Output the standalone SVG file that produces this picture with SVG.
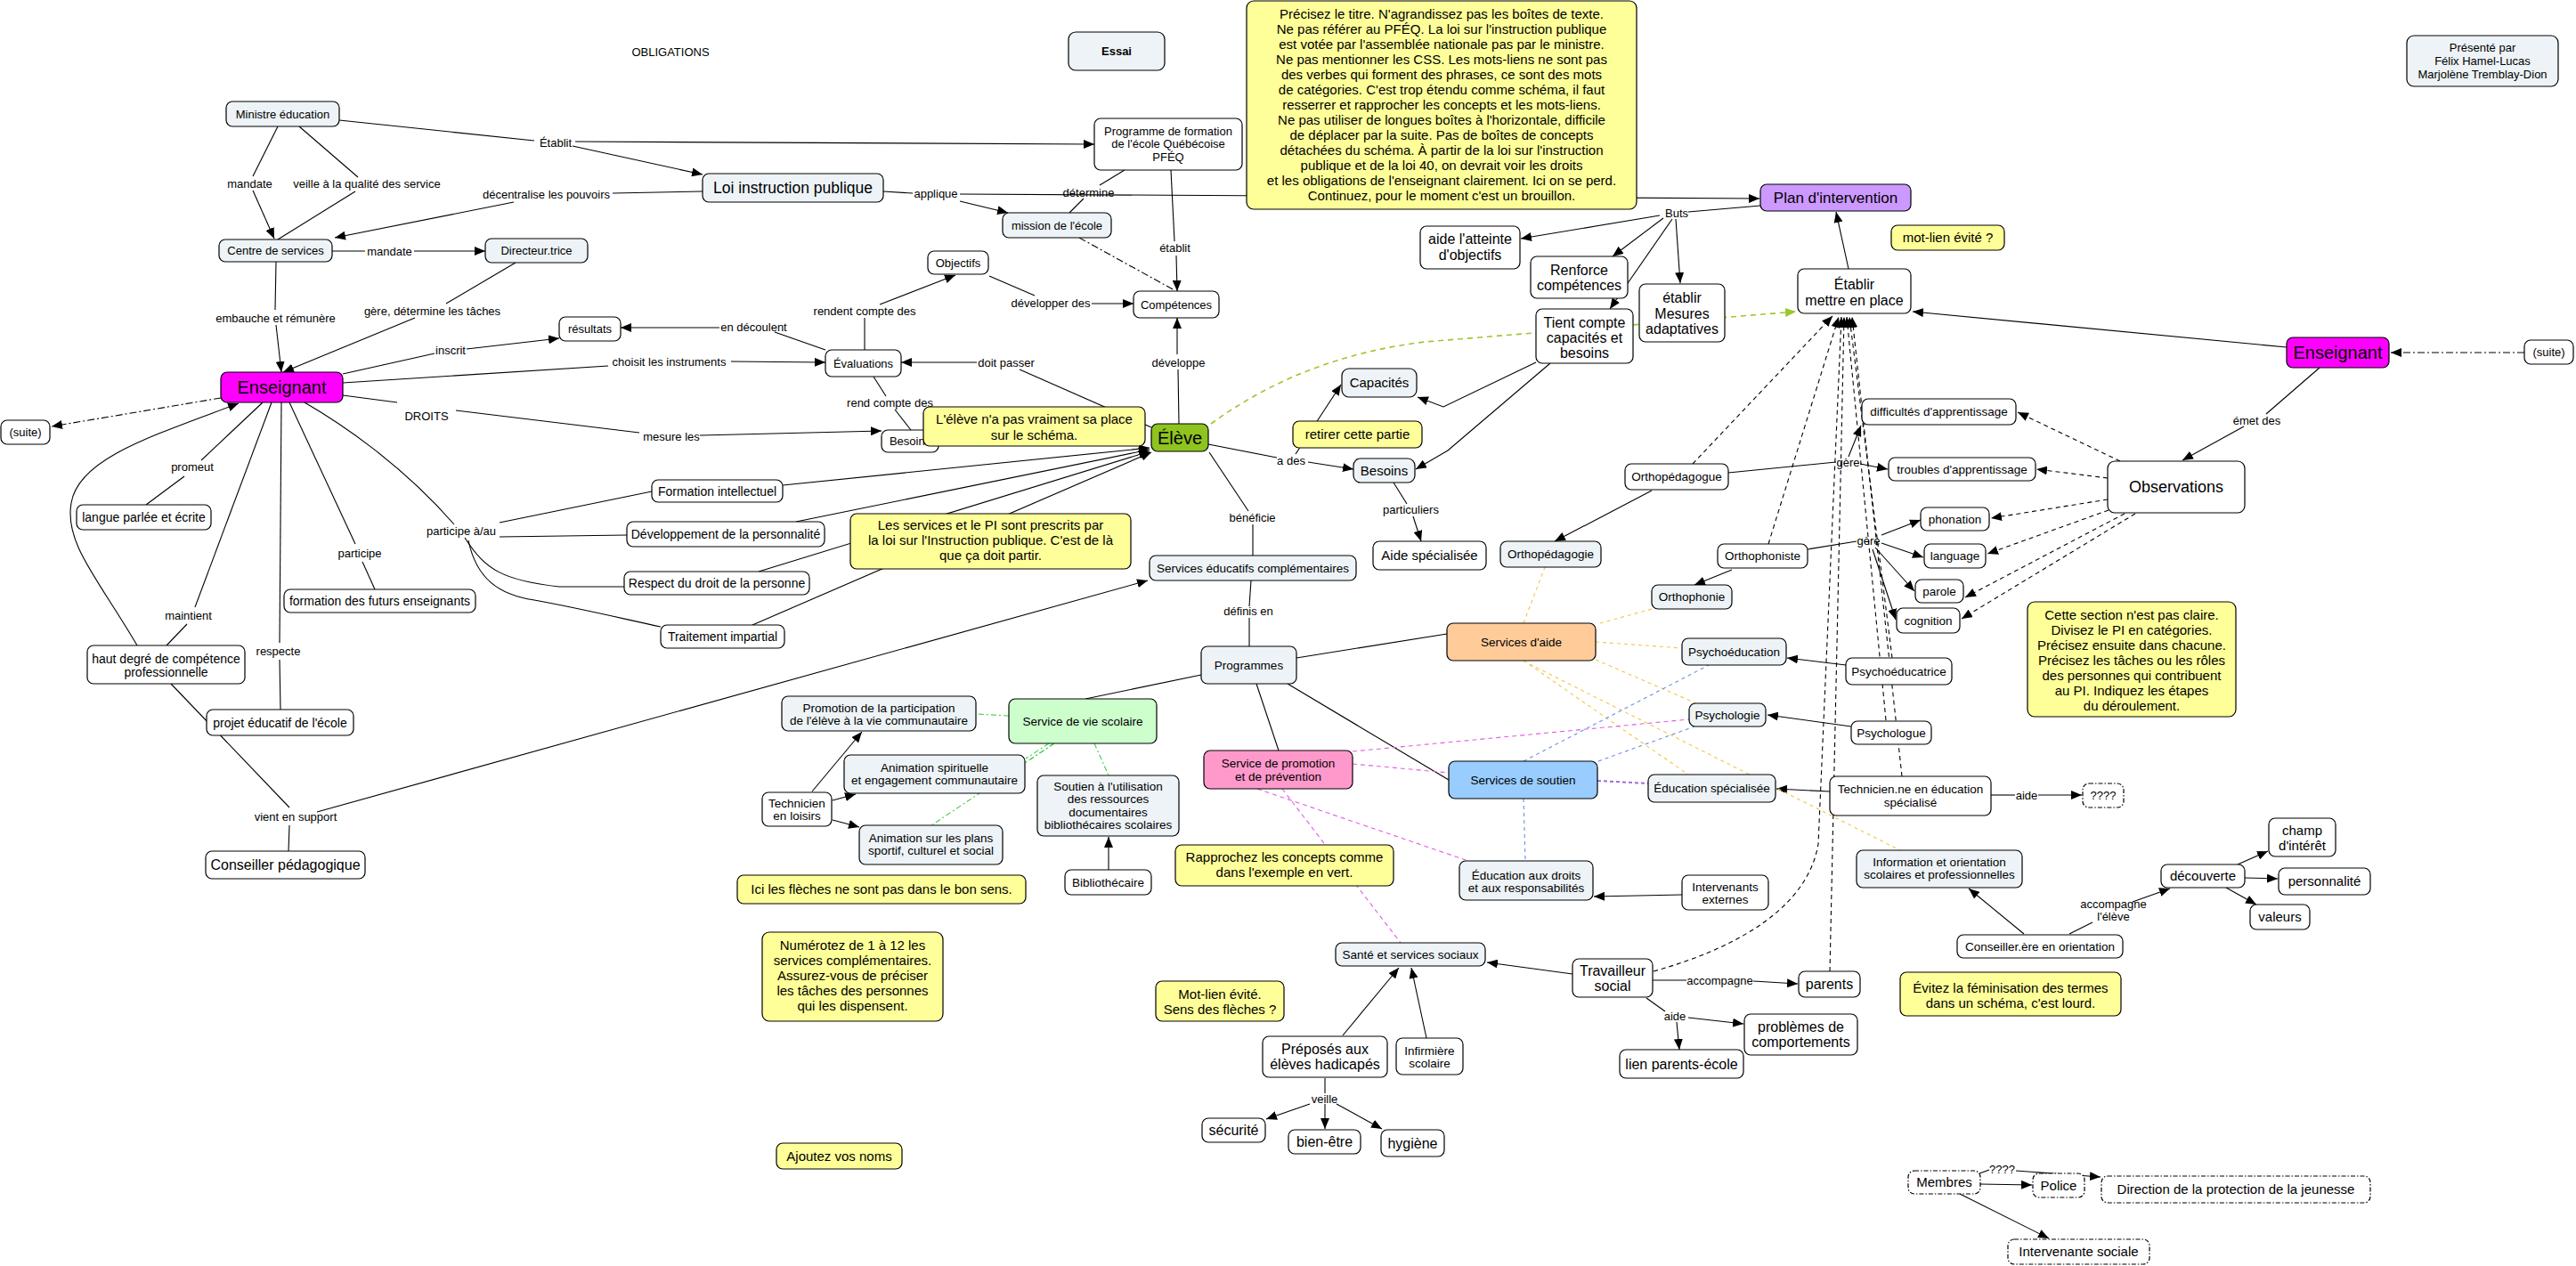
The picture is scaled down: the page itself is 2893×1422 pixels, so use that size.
<svg xmlns="http://www.w3.org/2000/svg" width="2893" height="1422" viewBox="0 0 2893 1422">
<style>
text{font-family:'Liberation Sans',Arial,sans-serif;text-anchor:middle;fill:#000}
.w{fill:#fff;stroke:#000;stroke-width:1.2}
.l{fill:#edf3f6;stroke:#000;stroke-width:1.2}
.y{fill:#ffff99;stroke:#000;stroke-width:1.2}
.mg{fill:#ff00ff;stroke:#000;stroke-width:1.2}
.dd{stroke-dasharray:5 2 1.5 2}
.f12{font-size:12px}.f13{font-size:13px}.f135{font-size:13.5px}.f14{font-size:14px}.f15{font-size:15px}.f16{font-size:16px}.f17{font-size:17px}.f18{font-size:18px}.f20{font-size:20px}
.c path{fill:none;stroke:#000;stroke-width:1.1}
.c .da{stroke-dasharray:5 4}
.c .dt{stroke-dasharray:8 3 2 3}
.c .gy{stroke:#f2c744;stroke-dasharray:4 4}
.c .bl{stroke:#6a8fe6;stroke-dasharray:4 4}
.c .pu{stroke:#9a6fd6;stroke-dasharray:4 3;stroke-width:2}
.c .pk{stroke:#e35be3;stroke-dasharray:5 4}
.c .gr{stroke:#44cc44;stroke-dasharray:6 3 2 3}
.c .yg{stroke:#9cc72e;stroke-dasharray:6 5;stroke-width:1.6}
.lab text{font-size:13px}
</style>
<defs>
<marker id="a" viewBox="0 0 12 10" refX="12" refY="5" markerWidth="12" markerHeight="10" markerUnits="userSpaceOnUse" orient="auto"><path d="M0,0 L12,5 L0,10 z" fill="#000"/></marker>
<marker id="ag" viewBox="0 0 12 10" refX="12" refY="5" markerWidth="12" markerHeight="10" markerUnits="userSpaceOnUse" orient="auto"><path d="M0,0 L12,5 L0,10 z" fill="#9cc72e"/></marker>
</defs>
<rect width="2893" height="1422" fill="#fff"/>
<g id="connectors" class="c">
<path d="M381,135 L600,158"/>
<path d="M646,159 L1229,162" marker-end="url(#a)"/>
<path d="M643,164 L789,196" marker-end="url(#a)"/>
<path d="M312,142 L284,198"/>
<path d="M284,214 L308,268" marker-end="url(#a)"/>
<path d="M336,142 L402,199"/>
<path d="M399,215 L312,269"/>
<path d="M789,215 L688,217"/>
<path d="M577,227 L376,267" marker-end="url(#a)"/>
<path d="M373,282 L410,282"/>
<path d="M465,282 L545,282" marker-end="url(#a)"/>
<path d="M310,294 L309,348"/>
<path d="M310,365 L316,418" marker-end="url(#a)"/>
<path d="M579,295 L501,341"/>
<path d="M466,357 L318,418" marker-end="url(#a)"/>
<path d="M385,420 L488,397"/>
<path d="M524,392 L628,380" marker-end="url(#a)"/>
<path d="M385,430 L683,411"/>
<path d="M821,406 L927,407" marker-end="url(#a)"/>
<path d="M385,444 L446,452"/>
<path d="M512,461 L718,486"/>
<path d="M786,489 L990,484" marker-end="url(#a)"/>
<path class="dt" d="M248,447 L58,479" marker-end="url(#a)"/>
<path d="M295,452 L226,517"/>
<path d="M207,535 L164,567"/>
<path d="M305,452 L219,682"/>
<path d="M210,701 L187,725"/>
<path d="M154,725 C110,650 72,610 80,565 C88,515 170,490 268,453" marker-end="url(#a)"/>
<path d="M316,452 L314,722"/>
<path d="M314,741 L315,797"/>
<path d="M325,452 L399,611"/>
<path d="M407,631 L421,662"/>
<path d="M342,452 C380,474 450,520 510,589"/>
<path d="M561,587 L732,552"/>
<path d="M879,545 L1291,503" marker-end="url(#a)"/>
<path d="M561,603 L704,601"/>
<path d="M894,586 L1291,505" marker-end="url(#a)"/>
<path d="M522,604 C545,640 565,652 628,659 L701,659"/>
<path d="M852,642 L1291,507" marker-end="url(#a)"/>
<path d="M526,607 C535,650 560,668 600,674 C650,683 700,695 742,704"/>
<path d="M845,702 L1293,508" marker-end="url(#a)"/>
<path d="M192,768 L325,907"/>
<path d="M325,927 L324,956"/>
<path d="M356,912 L1289,652" marker-end="url(#a)"/>
<path d="M992,215 L1025,217"/>
<path d="M1078,218 L1976,223" marker-end="url(#a)"/>
<path d="M1078,226 L1132,239" marker-end="url(#a)"/>
<path d="M1263,191 L1235,208"/>
<path d="M1217,223 L1201,239"/>
<path d="M1315,191 L1319,271"/>
<path d="M1321,287 L1322,327" marker-end="url(#a)"/>
<path class="dt" d="M1212,267 L1319,326"/>
<path d="M1111,310 L1162,332"/>
<path d="M1226,341 L1273,341" marker-end="url(#a)"/>
<path d="M971,393 L971,357"/>
<path d="M988,342 L1073,309" marker-end="url(#a)"/>
<path d="M927,393 L870,373"/>
<path d="M808,368 L697,368" marker-end="url(#a)"/>
<path d="M1293,480 L1145,415"/>
<path d="M1097,407 L1012,407" marker-end="url(#a)"/>
<path d="M1324,476 L1323,415"/>
<path d="M1322,398 L1322,357" marker-end="url(#a)"/>
<path d="M981,423 L995,445"/>
<path d="M1005,460 L1023,483"/>
<path d="M1357,499 L1434,514"/>
<path d="M1469,519 L1520,527" marker-end="url(#a)"/>
<path d="M1455,510 L1506,432" marker-end="url(#a)"/>
<path d="M1358,508 L1402,574"/>
<path d="M1407,589 L1407,624"/>
<path d="M1405,652 L1403,681"/>
<path d="M1403,694 L1403,726"/>
<path d="M1456,739 L1625,712"/>
<path d="M1446,768 L1627,876"/>
<path d="M1411,768 L1436,843"/>
<path d="M1349,758 L1219,785"/>
<path d="M1565,542 L1580,566"/>
<path d="M1587,580 L1596,608" marker-end="url(#a)"/>
<path d="M1725,407 L1621,457 L1592,446" marker-end="url(#a)"/>
<path d="M1741,408 L1626,506 L1590,527" marker-end="url(#a)"/>
<path d="M1977,231 L1896,238"/>
<path d="M1864,242 L1708,268" marker-end="url(#a)"/>
<path d="M1868,245 L1811,288" marker-end="url(#a)"/>
<path d="M1878,246 L1808,347" marker-end="url(#a)"/>
<path d="M1882,246 L1887,318" marker-end="url(#a)"/>
<path d="M2076,302 L2062,238" marker-end="url(#a)"/>
<path class="yg" d="M1360,476 C1430,425 1510,395 1600,384 L2017,350" marker-end="url(#ag)"/>
<path d="M2568,390 L2148,350" marker-end="url(#a)"/>
<path class="dt" d="M2835,396 L2685,396" marker-end="url(#a)"/>
<path d="M2605,413 L2545,465"/>
<path d="M2520,479 L2451,517" marker-end="url(#a)"/>
<path class="da" d="M2381,518 L2266,463" marker-end="url(#a)"/>
<path class="da" d="M2367,537 L2287,527" marker-end="url(#a)"/>
<path class="da" d="M2367,561 L2236,582" marker-end="url(#a)"/>
<path class="da" d="M2368,573 L2232,622" marker-end="url(#a)"/>
<path class="da" d="M2386,577 L2207,671" marker-end="url(#a)"/>
<path class="da" d="M2398,577 L2203,695" marker-end="url(#a)"/>
<path d="M1855,551 L1746,608" marker-end="url(#a)"/>
<path d="M1941,531 L2062,519"/>
<path d="M2089,521 L2120,527" marker-end="url(#a)"/>
<path d="M2076,513 L2090,478" marker-end="url(#a)"/>
<path d="M1945,640 L1903,657" marker-end="url(#a)"/>
<path d="M2030,617 L2085,608"/>
<path d="M2113,601 L2157,584" marker-end="url(#a)"/>
<path d="M2113,610 L2160,626" marker-end="url(#a)"/>
<path d="M2106,615 L2150,664" marker-end="url(#a)"/>
<path d="M2103,617 L2129,696" marker-end="url(#a)"/>
<path d="M2073,747 L2007,739" marker-end="url(#a)"/>
<path d="M2079,816 L1985,803" marker-end="url(#a)"/>
<path d="M2055,889 L1995,886" marker-end="url(#a)"/>
<path d="M2236,893 L2263,893"/>
<path d="M2289,893 L2338,893" marker-end="url(#a)"/>
<path class="da" d="M1901,521 L2058,355" marker-end="url(#a)"/>
<path class="da" d="M1986,611 L2065,356" marker-end="url(#a)"/>
<path class="da" d="M1857,1091 C1950,1065 2030,1020 2042,948 L2068,356" marker-end="url(#a)"/>
<path class="da" d="M2055,1091 L2071,356" marker-end="url(#a)"/>
<path class="da" d="M2118,809 L2074,356" marker-end="url(#a)"/>
<path class="da" d="M2125,739 L2077,356" marker-end="url(#a)"/>
<path class="da" d="M2136,872 L2080,356" marker-end="url(#a)"/>
<path d="M1766,1094 L1670,1081" marker-end="url(#a)"/>
<path d="M1856,1101 L1894,1101"/>
<path d="M1969,1102 L2019,1105" marker-end="url(#a)"/>
<path d="M1849,1121 L1870,1136"/>
<path d="M1883,1148 L1886,1179" marker-end="url(#a)"/>
<path d="M1896,1143 L1958,1150" marker-end="url(#a)"/>
<path d="M1889,1005 L1790,1007" marker-end="url(#a)"/>
<path d="M1508,1163 L1571,1087" marker-end="url(#a)"/>
<path d="M1602,1166 L1585,1087" marker-end="url(#a)"/>
<path d="M1488,1211 L1488,1228"/>
<path d="M1488,1240 L1488,1268" marker-end="url(#a)"/>
<path d="M1471,1240 L1422,1257" marker-end="url(#a)"/>
<path d="M1501,1240 L1552,1268" marker-end="url(#a)"/>
<path d="M2273,1049 L2211,998" marker-end="url(#a)"/>
<path d="M2324,1049 L2350,1036"/>
<path d="M2395,1013 L2437,998" marker-end="url(#a)"/>
<path d="M2513,971 L2547,956" marker-end="url(#a)"/>
<path d="M2521,986 L2558,987" marker-end="url(#a)"/>
<path d="M2500,997 L2534,1016" marker-end="url(#a)"/>
<path d="M2223,1318 L2234,1314"/>
<path d="M2264,1315 L2359,1322" marker-end="url(#a)"/>
<path d="M2224,1330 L2282,1331" marker-end="url(#a)"/>
<path d="M2201,1341 L2301,1391" marker-end="url(#a)"/>
<path d="M912,889 L968,822" marker-end="url(#a)"/>
<path d="M935,899 L961,892" marker-end="url(#a)"/>
<path d="M935,921 L965,929" marker-end="url(#a)"/>
<path d="M1245,977 L1245,940" marker-end="url(#a)"/>
<path class="gr" d="M1133,804 L1096,802"/>
<path class="gr" d="M1178,835 L1152,852"/>
<path class="gr" d="M1184,835 L1157,853"/>
<path class="gr" d="M1184,835 L1046,927"/>
<path class="gr" d="M1229,835 L1245,871"/>
<path class="gy" d="M1711,700 L1735,637"/>
<path class="gy" d="M1797,700 L1855,684"/>
<path class="gy" d="M1792,721 L1889,728"/>
<path class="gy" d="M1792,741 L1905,790"/>
<path class="gy" d="M1711,742 L1896,870"/>
<path class="gy" d="M1718,746 L2134,955"/>
<path class="bl" d="M1711,855 L1919,747"/>
<path class="bl" d="M1795,855 L1903,816"/>
<path class="pu" d="M1794,877 L1851,880"/>
<path class="bl" d="M1711,897 L1713,967"/>
<path class="pk" d="M1519,844 L1897,808"/>
<path class="pk" d="M1519,858 L1627,868"/>
<path class="pk" d="M1412,886 L1649,967"/>
<path class="pk" d="M1440,886 L1573,1059"/>
</g>
<g id="link-labels" class="lab">
<text x="624" y="164.6">Établit</text>
<text x="280.5" y="210.6">mandate</text>
<text x="412" y="210.6">veille à la qualité des service</text>
<text x="613.5" y="222.6">décentralise les pouvoirs</text>
<text x="437.5" y="286.6">mandate</text>
<text x="309.5" y="361.6">embauche et rémunère</text>
<text x="485.5" y="353.6">gère, détermine les tâches</text>
<text x="506" y="397.6">inscrit</text>
<text x="751.5" y="410.6">choisit les instruments</text>
<text x="479" y="471.6">DROITS</text>
<text x="754" y="494.6">mesure les</text>
<text x="1051" y="221.6">applique</text>
<text x="1222.5" y="220.6">détermine</text>
<text x="1319.5" y="282.6">établit</text>
<text x="1180" y="344.6">développer des</text>
<text x="971" y="353.6">rendent compte des</text>
<text x="846.5" y="371.6">en découlent</text>
<text x="1130" y="411.6">doit passer</text>
<text x="1323.5" y="411.6">développe</text>
<text x="999.5" y="456.6">rend compte des</text>
<text x="216" y="528.6">promeut</text>
<text x="211.5" y="695.6">maintient</text>
<text x="312.5" y="735.6">respecte</text>
<text x="404" y="625.6">participe</text>
<text x="518" y="600.6">participe à/au</text>
<text x="332" y="921.6">vient en support</text>
<text x="1406.5" y="585.6">bénéficie</text>
<text x="1402" y="690.6">définis en</text>
<text x="1450" y="521.6">a des</text>
<text x="1584.5" y="576.6">particuliers</text>
<text x="1883" y="243.6">Buts</text>
<text x="2075.5" y="523.6">gère</text>
<text x="2098.5" y="611.6">gère</text>
<text x="2276" y="897.6">aide</text>
<text x="1931.5" y="1105.6">accompagne</text>
<text x="1881" y="1145.6">aide</text>
<text x="1487.5" y="1238.6">veille</text>
<text class="f12" x="2373.5" y="1020">accompagne</text>
<text class="f12" x="2373.5" y="1034">l'élève</text>
<text class="f12" x="2248.5" y="1318">????</text>
<text x="2534.5" y="476.6">émet des</text>
</g>
<g id="obligations"><text class="f13" x="753" y="62.5">OBLIGATIONS</text></g>
<g id="essai"><rect class="l" x="1200" y="36" width="108" height="43" rx="8"/><text class="f13" x="1254" y="62" font-weight="bold">Essai</text></g>
<g id="note-main"><rect class="y" x="1400" y="1" width="438" height="234" rx="8"/>
<text class="f15"><tspan x="1619" y="21.3">Précisez le titre. N'agrandissez pas les boîtes de texte.</tspan><tspan x="1619" dy="17">Ne pas référer au PFÉQ. La loi sur l'instruction publique</tspan><tspan x="1619" dy="17">est votée par l'assemblée nationale pas par le ministre.</tspan><tspan x="1619" dy="17">Ne pas mentionner les CSS. Les mots-liens ne sont pas</tspan><tspan x="1619" dy="17">des verbes qui forment des phrases, ce sont des mots</tspan><tspan x="1619" dy="17">de catégories. C'est trop étendu comme schéma, il faut</tspan><tspan x="1619" dy="17">resserrer et rapprocher les concepts et les mots-liens.</tspan><tspan x="1619" dy="17">Ne pas utiliser de longues  boîtes à l'horizontale, difficile</tspan><tspan x="1619" dy="17">de déplacer par la suite. Pas de boîtes de concepts</tspan><tspan x="1619" dy="17">détachées du schéma. À partir de la loi sur l'instruction</tspan><tspan x="1619" dy="17">publique et de la loi 40, on devrait voir les droits</tspan><tspan x="1619" dy="17">et les obligations de l'enseignant clairement. Ici on se perd.</tspan><tspan x="1619" dy="17">Continuez, pour le moment c'est un brouillon.</tspan></text></g>
<g id="presente"><rect class="l" x="2703" y="40" width="170" height="57" rx="8"/><text class="f13"><tspan x="2788" y="57.6">Présenté par</tspan><tspan x="2788" y="72.6">Félix Hamel-Lucas</tspan><tspan x="2788" y="87.6">Marjolène Tremblay-Dion</tspan></text></g>
<g id="ministre"><rect class="l" x="254" y="114" width="127" height="28" rx="7"/><text class="f13" x="317.5" y="132.6">Ministre éducation</text></g>
<g id="loi"><rect class="l" x="789" y="195" width="203" height="32" rx="7"/><text x="890.5" y="217.2" font-size="17.5">Loi instruction publique</text></g>
<g id="programme"><rect class="w" x="1229" y="133" width="166" height="58" rx="7"/><text class="f13"><tspan x="1312" y="151.6">Programme de formation</tspan><tspan x="1312" y="166.1">de l'école Québécoise</tspan><tspan x="1312" y="180.6">PFÉQ</tspan></text></g>
<g id="centre"><rect class="l" x="246" y="269" width="127" height="25" rx="7"/><text class="f13" x="309.5" y="286.1">Centre de services</text></g>
<g id="directeur"><rect class="l" x="545" y="268" width="115" height="27" rx="7"/><text class="f13" x="602.5" y="286.1">Directeur.trice</text></g>
<g id="mission"><rect class="l" x="1126" y="239" width="122" height="28" rx="7"/><text class="f13" x="1187" y="257.6">mission de l'école</text></g>
<g id="objectifs"><rect class="w" x="1042" y="282" width="68" height="26" rx="7"/><text class="f13" x="1076" y="299.6">Objectifs</text></g>
<g id="competences"><rect class="w" x="1273" y="327" width="96" height="30" rx="7"/><text class="f13" x="1321" y="346.6">Compétences</text></g>
<g id="resultats"><rect class="w" x="628" y="356" width="69" height="27" rx="7"/><text class="f13" x="662.5" y="374.1">résultats</text></g>
<g id="evaluations"><rect class="w" x="927" y="393" width="85" height="30" rx="7"/><text class="f13" x="969.5" y="412.6">Évaluations</text></g>
<g id="enseignant"><rect class="mg" x="248" y="418" width="137" height="34" rx="7"/><text class="f20" x="316.5" y="442.1">Enseignant</text></g>
<g id="suite-left"><rect class="w" x="1" y="472" width="55" height="27" rx="7"/><text class="f13" x="28.5" y="490.1">(suite)</text></g>
<g id="besoins-left"><rect class="w" x="990" y="483" width="64" height="25" rx="7"/><text class="f13" x="1022" y="500.1">Besoins</text></g>
<g id="note-eleve"><rect class="y" x="1037" y="457" width="249" height="44" rx="7"/><text class="f15"><tspan x="1161.5" y="475.8">L'élève n'a pas vraiment sa place</tspan><tspan x="1161.5" y="493.8">sur le schéma.</tspan></text></g>
<g id="eleve"><rect x="1293" y="476" width="64" height="31" rx="7" fill="#8fc31f" stroke="#000" stroke-width="1.2"/><text class="f20" x="1325" y="498.6">Élève</text></g>
<g id="note-retirer"><rect class="y" x="1452" y="473" width="145" height="30" rx="7"/><text class="f15" x="1524.5" y="493.3">retirer cette partie</text></g>
<g id="capacites"><rect class="l" x="1507" y="414" width="84" height="32" rx="8"/><text class="f15" x="1549" y="435.3">Capacités</text></g>
<g id="besoins-right"><rect class="l" x="1520" y="515" width="69" height="27" rx="8"/><text class="f15" x="1554.5" y="533.8">Besoins</text></g>
<g id="aide-specialisee"><rect class="w" x="1542" y="608" width="127" height="32" rx="7"/><text class="f15" x="1605.5" y="629.3">Aide spécialisée</text></g>
<g id="orthopedagogie"><rect class="l" x="1685" y="608" width="113" height="29" rx="7"/><text class="f135" x="1741.5" y="627.3">Orthopédagogie</text></g>
<g id="orthopedagogue"><rect class="w" x="1825" y="521" width="116" height="29" rx="7"/><text class="f135" x="1883" y="540.3">Orthopédagogue</text></g>
<g id="orthophoniste"><rect class="w" x="1929" y="611" width="101" height="27" rx="7"/><text class="f135" x="1979.5" y="629.3">Orthophoniste</text></g>
<g id="orthophonie"><rect class="l" x="1855" y="657" width="90" height="27" rx="7"/><text class="f135" x="1900" y="675.3">Orthophonie</text></g>
<g id="formation-intellectuel"><rect class="w" x="732" y="539" width="147" height="25" rx="7"/><text class="f14" x="805.5" y="556.5">Formation intellectuel</text></g>
<g id="developpement"><rect class="w" x="704" y="586" width="222" height="28" rx="7"/><text class="f14" x="815" y="605">Développement de la personnalité</text></g>
<g id="respect"><rect class="w" x="701" y="642" width="208" height="26" rx="7"/><text class="f14" x="805" y="660">Respect du droit de la personne</text></g>
<g id="traitement"><rect class="w" x="742" y="702" width="139" height="26" rx="7"/><text class="f14" x="811.5" y="720">Traitement impartial</text></g>
<g id="note-services"><rect class="y" x="955" y="577" width="315" height="62" rx="7"/><text class="f15"><tspan x="1112.5" y="595.3">Les services et le PI sont prescrits par</tspan><tspan x="1112.5" y="612.3">la loi sur l'Instruction publique. C'est de là</tspan><tspan x="1112.5" y="629.3">que ça doit partir.</tspan></text></g>
<g id="services-educatifs"><rect class="l" x="1291" y="624" width="232" height="28" rx="7"/><text class="f135" x="1407" y="642.8">Services éducatifs complémentaires</text></g>
<g id="langue"><rect class="w" x="86" y="567" width="151" height="28" rx="7"/><text class="f14" x="161.5" y="586">langue parlée et écrite</text></g>
<g id="formation-futurs"><rect class="w" x="319" y="662" width="215" height="26" rx="7"/><text class="f14" x="426.5" y="680">formation des futurs enseignants</text></g>
<g id="haut-degre"><rect class="w" x="98" y="725" width="177" height="43" rx="7"/><text class="f14"><tspan x="186.5" y="745">haut degré de compétence</tspan><tspan x="186.5" y="759.5">professionnelle</tspan></text></g>
<g id="projet"><rect class="w" x="232" y="797" width="165" height="29" rx="7"/><text class="f14" x="314.5" y="816.5">projet éducatif de l'école</text></g>
<g id="conseiller-pedagogique"><rect class="w" x="231" y="956" width="179" height="31" rx="7"/><text class="f16" x="320.5" y="977.2">Conseiller pédagogique</text></g>
<g id="programmes"><rect class="l" x="1349" y="726" width="107" height="42" rx="7"/><text class="f135" x="1402.5" y="751.8">Programmes</text></g>
<g id="services-aide"><rect x="1625" y="700" width="167" height="42" rx="7" fill="#ffcc99" stroke="#000" stroke-width="1.2"/><text class="f135" x="1708.5" y="725.8">Services d'aide</text></g>
<g id="psychoeducation"><rect class="l" x="1889" y="717" width="117" height="30" rx="7"/><text class="f135" x="1947.5" y="736.8">Psychoéducation</text></g>
<g id="psychoeducatrice"><rect class="w" x="2073" y="739" width="119" height="30" rx="7"/><text class="f135" x="2132.5" y="758.8">Psychoéducatrice</text></g>
<g id="psychologie"><rect class="l" x="1897" y="790" width="86" height="26" rx="7"/><text class="f135" x="1940" y="807.8">Psychologie</text></g>
<g id="psychologue"><rect class="w" x="2079" y="810" width="90" height="26" rx="7"/><text class="f135" x="2124" y="827.8">Psychologue</text></g>
<g id="services-soutien"><rect x="1627" y="855" width="167" height="42" rx="7" fill="#99ccff" stroke="#000" stroke-width="1.2"/><text class="f135" x="1710.5" y="880.8">Services de soutien</text></g>
<g id="education-specialisee"><rect class="l" x="1851" y="870" width="143" height="31" rx="7"/><text class="f135" x="1922.5" y="890.3">Éducation spécialisée</text></g>
<g id="technicien-es"><rect class="w" x="2055" y="872" width="181" height="44" rx="7"/><text class="f135"><tspan x="2145.5" y="891.3">Technicien.ne en éducation</tspan><tspan x="2145.5" y="906.3">spécialisé</tspan></text></g>
<g id="q-aide"><rect class="w dd" x="2339" y="880" width="46" height="27" rx="7"/><text class="f13" x="2362" y="898.1">????</text></g>
<g id="service-promotion"><rect x="1352" y="843" width="167" height="43" rx="7" fill="#ff99cc" stroke="#000" stroke-width="1.2"/><text class="f135"><tspan x="1435.5" y="862">Service de promotion</tspan><tspan x="1435.5" y="877">et de prévention</tspan></text></g>
<g id="promotion-participation"><rect class="l" x="878" y="782" width="218" height="39" rx="7"/><text class="f135"><tspan x="987" y="799.8">Promotion de la participation</tspan><tspan x="987" y="814.3">de l'élève à la vie communautaire</tspan></text></g>
<g id="vie-scolaire"><rect x="1133" y="785" width="166" height="50" rx="7" fill="#ccffcc" stroke="#000" stroke-width="1.2"/><text class="f135" x="1216" y="814.8">Service de vie scolaire</text></g>
<g id="animation-spirituelle"><rect class="l" x="948" y="848" width="203" height="43" rx="7"/><text class="f135"><tspan x="1049.5" y="866.8">Animation spirituelle</tspan><tspan x="1049.5" y="881.3">et engagement communautaire</tspan></text></g>
<g id="technicien-loisirs"><rect class="w" x="856" y="890" width="78" height="38" rx="7"/><text class="f135"><tspan x="895" y="906.8">Technicien</tspan><tspan x="895" y="921.3">en loisirs</tspan></text></g>
<g id="soutien-biblio"><rect class="l" x="1165" y="871" width="159" height="68" rx="7"/><text class="f135"><tspan x="1244.5" y="887.8">Soutien à l'utilisation</tspan><tspan x="1244.5" y="902.3">des ressources</tspan><tspan x="1244.5" y="916.8">documentaires</tspan><tspan x="1244.5" y="931.3">bibliothécaires scolaires</tspan></text></g>
<g id="animation-plans"><rect class="l" x="965" y="927" width="161" height="44" rx="7"/><text class="f135"><tspan x="1045.5" y="945.8">Animation sur les plans</tspan><tspan x="1045.5" y="960.3">sportif, culturel et social</tspan></text></g>
<g id="bibliothecaire"><rect class="w" x="1196" y="977" width="97" height="28" rx="7"/><text class="f135" x="1244.5" y="995.8">Bibliothécaire</text></g>
<g id="note-fleches"><rect class="y" x="828" y="983" width="324" height="32" rx="7"/><text class="f15" x="990" y="1004.3">Ici les flèches ne sont pas dans le bon sens.</text></g>
<g id="note-numerotez"><rect class="y" x="856" y="1047" width="203" height="100" rx="8"/><text class="f15"><tspan x="957.5" y="1067.3">Numérotez de 1 à 12 les</tspan><tspan x="957.5" y="1084.3">services complémentaires.</tspan><tspan x="957.5" y="1101.3">Assurez-vous de préciser</tspan><tspan x="957.5" y="1118.3">les tâches des personnes</tspan><tspan x="957.5" y="1135.3">qui les dispensent.</tspan></text></g>
<g id="note-noms"><rect class="y" x="872" y="1284" width="141" height="29" rx="7"/><text class="f15" x="942.5" y="1303.8">Ajoutez vos noms</text></g>
<g id="note-rapprochez"><rect class="y" x="1320" y="949" width="245" height="46" rx="7"/><text class="f15"><tspan x="1442.5" y="968.3">Rapprochez les concepts comme</tspan><tspan x="1442.5" y="985.3">dans l'exemple en vert.</tspan></text></g>
<g id="note-motlien"><rect class="y" x="1298" y="1102" width="144" height="45" rx="7"/><text class="f15"><tspan x="1370" y="1122.3">Mot-lien évité.</tspan><tspan x="1370" y="1139.3">Sens des flèches ?</tspan></text></g>
<g id="preposes"><rect class="w" x="1418" y="1164" width="140" height="46" rx="7"/><text class="f16"><tspan x="1488" y="1183.7">Préposés aux</tspan><tspan x="1488" y="1200.7">élèves hadicapés</tspan></text></g>
<g id="infirmiere"><rect class="w" x="1568" y="1166" width="75" height="41" rx="7"/><text class="f135"><tspan x="1605.5" y="1184.8">Infirmière</tspan><tspan x="1605.5" y="1199.3">scolaire</tspan></text></g>
<g id="securite"><rect class="w" x="1350" y="1256" width="71" height="27" rx="7"/><text class="f16" x="1385.5" y="1275.2">sécurité</text></g>
<g id="bien-etre"><rect class="w" x="1447" y="1269" width="81" height="27" rx="7"/><text class="f16" x="1487.5" y="1288.2">bien-être</text></g>
<g id="hygiene"><rect class="w" x="1551" y="1269" width="71" height="30" rx="7"/><text class="f16" x="1586.5" y="1289.7">hygiène</text></g>
<g id="sante"><rect class="l" x="1500" y="1059" width="168" height="26" rx="7"/><text class="f135" x="1584" y="1076.8">Santé et services sociaux</text></g>
<g id="education-droits"><rect class="l" x="1639" y="967" width="150" height="44" rx="7"/><text class="f135"><tspan x="1714" y="987.8">Éducation aux droits</tspan><tspan x="1714" y="1002.3">et aux responsabilités</tspan></text></g>
<g id="intervenants"><rect class="w" x="1889" y="983" width="97" height="39" rx="7"/><text class="f135"><tspan x="1937.5" y="1000.8">Intervenants</tspan><tspan x="1937.5" y="1015.3">externes</tspan></text></g>
<g id="travailleur"><rect class="w" x="1766" y="1077" width="90" height="43" rx="7"/><text class="f16"><tspan x="1811" y="1096.2">Travailleur</tspan><tspan x="1811" y="1113.2">social</tspan></text></g>
<g id="parents"><rect class="w" x="2020" y="1091" width="69" height="29" rx="7"/><text class="f16" x="2054.5" y="1111.2">parents</text></g>
<g id="problemes"><rect class="w" x="1959" y="1139" width="127" height="46" rx="7"/><text class="f16"><tspan x="2022.5" y="1158.7">problèmes de</tspan><tspan x="2022.5" y="1175.7">comportements</tspan></text></g>
<g id="lien"><rect class="w" x="1819" y="1179" width="139" height="32" rx="7"/><text class="f16" x="1888.5" y="1200.7">lien parents-école</text></g>
<g id="information"><rect class="l" x="2085" y="955" width="186" height="42" rx="7"/><text class="f135"><tspan x="2178" y="972.8">Information et orientation</tspan><tspan x="2178" y="987.3">scolaires et professionnelles</tspan></text></g>
<g id="note-feminisation"><rect class="y" x="2134" y="1092" width="248" height="49" rx="7"/><text class="f15"><tspan x="2258" y="1115.3">Évitez la féminisation des termes</tspan><tspan x="2258" y="1132.3">dans un schéma, c'est lourd.</tspan></text></g>
<g id="conseiller-orientation"><rect class="w" x="2198" y="1050" width="186" height="26" rx="7"/><text class="f135" x="2291" y="1067.8">Conseiller.ère en orientation</text></g>
<g id="decouverte"><rect class="w" x="2427" y="971" width="94" height="26" rx="7"/><text class="f15" x="2474" y="989.3">découverte</text></g>
<g id="champ"><rect class="w" x="2548" y="919" width="75" height="43" rx="7"/><text class="f15"><tspan x="2585.5" y="938.3">champ</tspan><tspan x="2585.5" y="955.3">d'intérêt</tspan></text></g>
<g id="personnalite"><rect class="w" x="2559" y="975" width="103" height="30" rx="7"/><text class="f15" x="2610.5" y="995.3">personnalité</text></g>
<g id="valeurs"><rect class="w" x="2527" y="1016" width="67" height="28" rx="7"/><text class="f15" x="2560.5" y="1035.3">valeurs</text></g>
<g id="membres"><rect class="w dd" x="2143" y="1315" width="81" height="26" rx="7"/><text class="f15" x="2183.5" y="1333.3">Membres</text></g>
<g id="police"><rect class="w dd" x="2283" y="1318" width="58" height="27" rx="7"/><text class="f15" x="2312" y="1336.8">Police</text></g>
<g id="dpj"><rect class="w dd" x="2360" y="1321" width="302" height="30" rx="7"/><text class="f15" x="2511" y="1341.3">Direction de la protection de la jeunesse</text></g>
<g id="intervenante"><rect class="w dd" x="2255" y="1392" width="159" height="28" rx="7"/><text class="f15" x="2334.5" y="1411.3">Intervenante sociale</text></g>
<g id="plan"><rect x="1977" y="207" width="169" height="30" rx="7" fill="#cc99ff" stroke="#000" stroke-width="1.2"/><text class="f17" x="2061.5" y="228">Plan d'intervention</text></g>
<g id="aide-atteinte"><rect class="w" x="1595" y="254" width="112" height="48" rx="7"/><text class="f16"><tspan x="1651" y="273.7">aide l'atteinte</tspan><tspan x="1651" y="291.7">d'objectifs</tspan></text></g>
<g id="renforce"><rect class="w" x="1719" y="288" width="109" height="47" rx="7"/><text class="f16"><tspan x="1773.5" y="308.7">Renforce</tspan><tspan x="1773.5" y="325.7">compétences</tspan></text></g>
<g id="mesures"><rect class="w" x="1841" y="319" width="96" height="65" rx="7"/><text class="f16"><tspan x="1889" y="339.7">établir</tspan><tspan x="1889" y="357.7">Mesures</tspan><tspan x="1889" y="374.7">adaptatives</tspan></text></g>
<g id="tient"><rect class="w" x="1725" y="347" width="109" height="61" rx="7"/><text class="f16"><tspan x="1779.5" y="367.7">Tient compte</tspan><tspan x="1779.5" y="384.7">capacités et</tspan><tspan x="1779.5" y="401.7">besoins</tspan></text></g>
<g id="etablir"><rect class="w" x="2019" y="302" width="127" height="50" rx="7"/><text class="f16"><tspan x="2082.5" y="324.7">Établir</tspan><tspan x="2082.5" y="342.7">mettre en place</tspan></text></g>
<g id="note-motlien2"><rect class="y" x="2124" y="253" width="127" height="28" rx="7"/><text class="f15" x="2187.5" y="272.3">mot-lien évité ?</text></g>
<g id="enseignant-right"><rect class="mg" x="2568" y="379" width="115" height="34" rx="7"/><text class="f20" x="2625.5" y="403.1">Enseignant</text></g>
<g id="suite-right"><rect class="w" x="2835" y="382" width="55" height="27" rx="7"/><text class="f13" x="2862.5" y="400.1">(suite)</text></g>
<g id="observations"><rect class="w" x="2367" y="518" width="154" height="58" rx="8"/><text class="f18" x="2444" y="553.4">Observations</text></g>
<g id="difficultes"><rect class="w" x="2091" y="448" width="173" height="29" rx="7"/><text class="f135" x="2177.5" y="467.3">difficultés d'apprentissage</text></g>
<g id="troubles"><rect class="w" x="2121" y="514" width="165" height="26" rx="7"/><text class="f135" x="2203.5" y="531.8">troubles d'apprentissage</text></g>
<g id="phonation"><rect class="w" x="2157" y="570" width="77" height="26" rx="7"/><text class="f135" x="2195.5" y="587.8">phonation</text></g>
<g id="language"><rect class="w" x="2161" y="611" width="69" height="27" rx="7"/><text class="f135" x="2195.5" y="629.3">language</text></g>
<g id="parole"><rect class="w" x="2151" y="651" width="54" height="26" rx="7"/><text class="f135" x="2178" y="668.8">parole</text></g>
<g id="cognition"><rect class="w" x="2130" y="683" width="71" height="28" rx="7"/><text class="f135" x="2165.5" y="701.8">cognition</text></g>
<g id="note-section"><rect class="y" x="2277" y="676" width="234" height="129" rx="8"/><text class="f15"><tspan x="2394" y="696.3">Cette section n'est pas claire.</tspan><tspan x="2394" y="713.3">Divisez le PI en catégories.</tspan><tspan x="2394" y="730.3">Précisez ensuite dans chacune.</tspan><tspan x="2394" y="747.3">Précisez les tâches ou les rôles</tspan><tspan x="2394" y="764.3">des personnes qui contribuent</tspan><tspan x="2394" y="781.3">au PI. Indiquez les étapes</tspan><tspan x="2394" y="798.3">du déroulement.</tspan></text></g>
</svg>
